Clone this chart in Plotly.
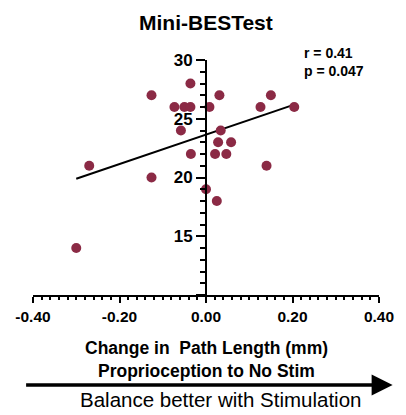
import plotly.graph_objects as go

# Data
change_path_length = [-0.30, -0.27, -0.126, -0.126, -0.073, -0.058, -0.05, -0.036, -0.036, -0.035,
                      0.0, 0.008, 0.021, 0.025, 0.028, 0.031, 0.034, 0.047, 0.058, 0.126,
                      0.14, 0.15, 0.204]
mini_bestest = [14, 21, 27, 20, 26, 24, 26, 26, 28, 22,
                19, 26, 22, 18, 23, 27, 24, 22, 23, 26,
                21, 27, 26]
fit_x = [-0.30, 0.204]
fit_y = [19.9, 26.2]
x_tick_vals = [-0.4, -0.2, 0.0, 0.2, 0.4]
x_tick_text = ["-0.40", "-0.20", "0.00", "0.20", "0.40"]
y_tick_vals = [10, 15, 20, 25, 30]
y_tick_text = ["", "15", "20", "25", "30"]

FONT = "Liberation Sans, Arial, sans-serif"
MAROON = "#8B2A45"

fig = go.Figure()
fig.add_trace(go.Scatter(x=fit_x, y=fit_y, mode="lines",
                         line=dict(color="black", width=2), hoverinfo="skip"))
fig.add_trace(go.Scatter(x=change_path_length, y=mini_bestest, mode="markers",
                         marker=dict(color=MAROON, size=10, line=dict(width=0)),
                         cliponaxis=False))

fig.update_layout(
    width=406, height=415,
    margin=dict(l=33, r=17, t=60, b=120),
    paper_bgcolor="white", plot_bgcolor="white",
    showlegend=False,
    font=dict(family=FONT, color="black"),
    xaxis=dict(range=[-0.4, 0.4], showgrid=False, zeroline=False,
               showline=True, linecolor="black", linewidth=2,
               ticks="outside", ticklen=6, tickwidth=2, tickcolor="black",
               tickvals=x_tick_vals, ticktext=["<b>%s</b>" % t for t in x_tick_text],
               tickfont=dict(size=15.5, family=FONT),
               minor=dict(tickmode="linear", tick0=-0.4, dtick=0.02, ticks="outside",
                          ticklen=3, tickwidth=1.5, tickcolor="black"),
               fixedrange=True),
    yaxis=dict(range=[10, 30], showgrid=False, zeroline=False,
               anchor="free", position=0.5,
               showline=True, linecolor="black", linewidth=2,
               ticks="outside", ticklen=9, tickwidth=2, tickcolor="black",
               tickvals=y_tick_vals, ticktext=["<b>%s</b>" % t if t else "" for t in y_tick_text],
               tickfont=dict(size=17, family=FONT),
               minor=dict(tickmode="linear", tick0=10, dtick=1, ticks="outside",
                          ticklen=5, tickwidth=2, tickcolor="black"),
               fixedrange=True),
)

def py(p):
    return (295 - p) / 235.0

def px(p):
    return (p - 33) / 356.0

anns = [
    dict(text="<b>Mini-BESTest</b>", x=px(211), y=py(22), size=21),
    dict(text="<b>r = 0.41</b><br><b>p = 0.047</b>", x=px(310), y=py(62), xanchor="left",
         align="left", size=14),
    dict(text="<b>Change in\u00a0 Path Length (mm)</b>", x=px(211), y=py(348), size=17.5),
    dict(text="<b>Proprioception to No Stim</b>", x=px(211), y=py(371), size=17.5),
    dict(text="Balance better with Stimulation", x=px(226), y=py(400), size=20.5),
]
for a in anns:
    size = a.pop("size")
    a.setdefault("xanchor", "center")
    fig.add_annotation(xref="paper", yref="paper", showarrow=False, yanchor="middle",
                       font=dict(family=FONT, color="black", size=size), **a)

fig.add_annotation(xref="paper", yref="paper", x=px(403), y=py(385),
                   axref="pixel", ayref="pixel", ax=35 - 403, ay=0,
                   text="", showarrow=True, arrowhead=2, arrowsize=1.2, arrowwidth=3.5,
                   arrowcolor="black")

fig.write_html("out.html")
